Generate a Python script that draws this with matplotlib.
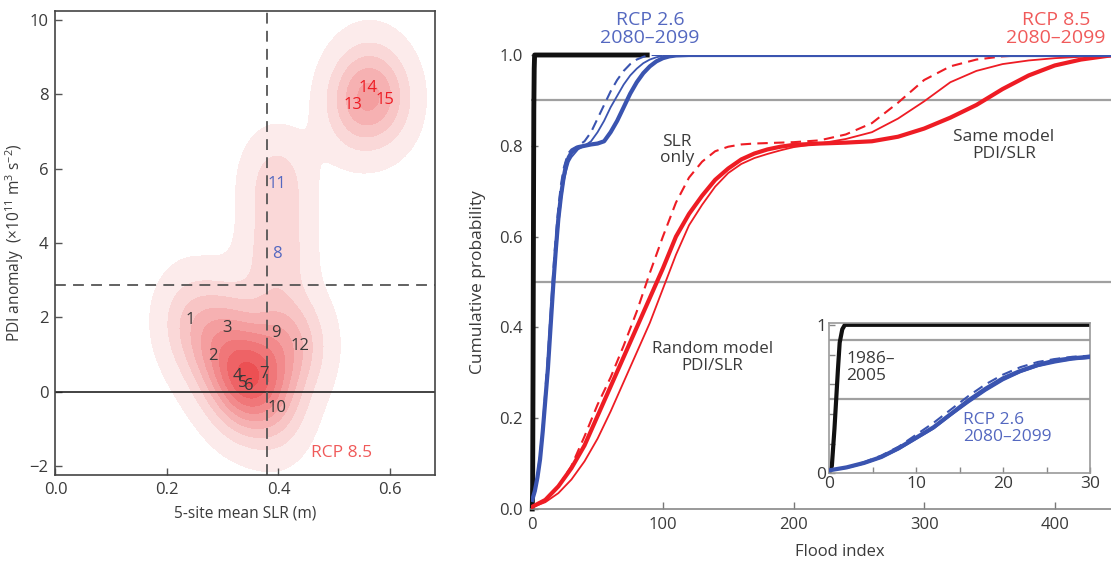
import numpy as np
import matplotlib
matplotlib.use("Agg")
import matplotlib.pyplot as plt
from matplotlib.colors import LinearSegmentedColormap

plt.rcParams["font.family"] = ["Open Sans", "DejaVu Sans"]
plt.rcParams["mathtext.fontset"] = "custom"
plt.rcParams["mathtext.rm"] = "Open Sans"
plt.rcParams["mathtext.it"] = "Open Sans:italic"

TXT = "#3a3a3a"
BLUE = "#3a54b0"
BLUE_TXT = "#5468c0"
RED = "#ee1c24"
RED_TXT = "#f05a5a"
GREY = "#a0a0a0"

# ── left panel data: model SLR vs PDI anomaly (RCP 8.5) ──────────────────────
model_id = ["1", "2", "3", "4", "5", "6", "7", "8", "9", "10", "11", "12", "13", "14", "15"]
slr = [0.241, 0.282, 0.308, 0.326, 0.336, 0.347, 0.374, 0.397, 0.396, 0.397,
       0.397, 0.438, 0.533, 0.560, 0.591]
pdi = [1.94, 0.97, 1.72, 0.43, 0.24, 0.16, 0.48, 3.71, 1.59, -0.43,
       5.60, 1.24, 7.70, 8.18, 7.86]
id_color = ["k"] * 7 + ["b", "k", "k", "b", "k", "r", "r", "r"]
slr_thresh = 0.38
pdi_thresh = 2.86

# ── right panel data: cumulative probability of flood index ──────────────────
hist_x = [0, 0.3, 0.6, 0.8, 1.0, 1.2, 1.5, 1.8, 88]
hist_p = [0, 0.05, 0.30, 0.50, 0.70, 0.88, 0.97, 1.0, 1.0]

rcp26_x = [0, 2, 4, 6, 8, 10, 12, 14, 16, 18, 20, 22, 24, 26, 28, 30, 35, 40,
           45, 50, 55, 60, 65, 70, 75, 80, 85, 90, 95, 100, 105, 110, 120, 450]
rcp26_same = [0.02, 0.04, 0.07, 0.11, 0.17, 0.24, 0.31, 0.40, 0.49, 0.57, 0.64,
              0.69, 0.73, 0.76, 0.775, 0.785, 0.797, 0.80, 0.803, 0.805, 0.81,
              0.83, 0.855, 0.885, 0.915, 0.94, 0.96, 0.975, 0.986, 0.993, 0.997,
              0.999, 1.0, 1.0]
rcp26_rand = [0.02, 0.035, 0.065, 0.105, 0.16, 0.23, 0.30, 0.39, 0.475, 0.555,
              0.625, 0.68, 0.72, 0.745, 0.765, 0.775, 0.792, 0.80, 0.81, 0.83,
              0.855, 0.885, 0.91, 0.935, 0.955, 0.97, 0.982, 0.99, 0.995, 0.998,
              0.999, 1.0, 1.0, 1.0]
rcp26_slr = [0.02, 0.04, 0.075, 0.12, 0.18, 0.26, 0.34, 0.43, 0.52, 0.60, 0.665,
             0.715, 0.75, 0.77, 0.785, 0.792, 0.80, 0.81, 0.83, 0.86, 0.89, 0.92,
             0.945, 0.965, 0.98, 0.99, 0.996, 1.0, 1.0, 1.0, 1.0, 1.0, 1.0, 1.0]

rcp85_x = [0, 10, 20, 30, 40, 50, 60, 70, 80, 90, 100, 110, 120, 130, 140, 150,
           160, 170, 180, 190, 200, 220, 240, 260, 280, 300, 320, 340, 360, 380,
           400, 420, 440, 450]
rcp85_same = [0.005, 0.02, 0.05, 0.09, 0.14, 0.205, 0.27, 0.335, 0.40, 0.465,
              0.53, 0.60, 0.65, 0.69, 0.725, 0.75, 0.77, 0.783, 0.792, 0.798,
              0.802, 0.805, 0.807, 0.81, 0.82, 0.838, 0.862, 0.89, 0.925, 0.955,
              0.977, 0.99, 0.998, 1.0]
rcp85_rand = [0.004, 0.015, 0.035, 0.065, 0.105, 0.155, 0.215, 0.28, 0.345, 0.41,
              0.485, 0.56, 0.625, 0.67, 0.71, 0.74, 0.76, 0.773, 0.782, 0.79,
              0.797, 0.805, 0.815, 0.83, 0.86, 0.898, 0.94, 0.965, 0.98, 0.988,
              0.993, 0.996, 0.999, 1.0]
rcp85_slr = [0.005, 0.02, 0.05, 0.095, 0.16, 0.23, 0.29, 0.36, 0.435, 0.52, 0.60,
             0.675, 0.73, 0.765, 0.788, 0.798, 0.803, 0.805, 0.806, 0.807, 0.808,
             0.812, 0.825, 0.85, 0.895, 0.945, 0.975, 0.99, 0.997, 1.0, 1.0, 1.0,
             1.0, 1.0]

ref_levels = [0.5, 0.9]

fig = plt.figure(figsize=(11.11, 5.63), dpi=100)

# ── left panel ────────────────────────────────────────────────────────────────
ax1 = fig.add_axes([0.04995, 0.1558, 0.3412, 0.8252])
gx = np.linspace(0, 0.68, 400)
gy = np.linspace(-2.25, 10.25, 400)
GX, GY = np.meshgrid(gx, gy)
dens = np.zeros_like(GX)
sx, sy = 0.04, 0.9
for xi, yi in zip(slr, pdi):
    dens += np.exp(-0.5 * ((GX - xi) / sx) ** 2 - 0.5 * ((GY - yi) / sy) ** 2)
# contour spacing tied to the height of the upper (13-15) peak
p_top = dens[GY > 6].max()
nlev = 10
levels = list(p_top * (0.085 + 0.21 * np.arange(nlev))) + [dens.max() + 1]
cmap = LinearSegmentedColormap.from_list("pk", ["#fcebeb", "#ea3d40"])
cols = [cmap(i / (nlev - 1)) for i in range(nlev)]
ax1.contourf(GX, GY, dens, levels=levels, colors=cols, zorder=0)

ax1.axhline(0, color="#222222", lw=1.2, zorder=2)
ax1.axhline(pdi_thresh, color="#555555", lw=1.3, ls=(0, (6, 4)), zorder=2)
ax1.axvline(slr_thresh, color="#555555", lw=1.3, ls=(0, (6, 4)), zorder=2)

cmap_id = {"k": TXT, "b": BLUE_TXT, "r": RED}
for lab, xi, yi, c in zip(model_id, slr, pdi, id_color):
    ax1.text(xi, yi, lab, color=cmap_id[c], fontsize=12, ha="center",
             va="center", zorder=3)
ax1.text(0.514, -1.64, "RCP 8.5", color=RED_TXT, fontsize=12.5, ha="center",
         va="center")

ax1.set_xlim(0, 0.68)
ax1.set_ylim(-2.25, 10.25)
ax1.set_xticks([0.0, 0.2, 0.4, 0.6])
ax1.set_xticklabels(["0.0", "0.2", "0.4", "0.6"])
ax1.set_yticks([-2, 0, 2, 4, 6, 8, 10])
ax1.set_yticklabels(["\u22122", "0", "2", "4", "6", "8", "10"])
ax1.tick_params(direction="in", length=5, width=1, colors="#555555",
                labelcolor=TXT, labelsize=12, pad=5)
for s in ax1.spines.values():
    s.set_color("#444444")
    s.set_linewidth(1.2)
ax1.set_xlabel("5-site mean SLR (m)", fontsize=11.2, color=TXT)
ax1.xaxis.set_label_coords(0.5, -0.064)
ax1.set_ylabel("PDI anomaly  (\u00d710$^{11}$ m$^3$ s$^{-2}$)", fontsize=11.2,
               color=TXT)
ax1.yaxis.set_label_coords(-0.078, 0.5)

# ── right panel ───────────────────────────────────────────────────────────────
ax2 = fig.add_axes([0.4779, 0.0959, 0.5221, 0.8064])
for lv in ref_levels:
    ax2.axhline(lv, color=GREY, lw=1.6, zorder=1)
ax2.plot(hist_x, hist_p, color="#111111", lw=3.5, zorder=2, clip_on=False)
ax2.plot(rcp85_x, rcp85_slr, color=RED, lw=1.5, ls=(0, (5, 3)), zorder=3)
ax2.plot(rcp85_x, rcp85_rand, color=RED, lw=1.3, zorder=3)
ax2.plot(rcp85_x, rcp85_same, color=RED, lw=3, zorder=3)
ax2.plot(rcp26_x, rcp26_slr, color=BLUE, lw=1.5, ls=(0, (5, 3)), zorder=4)
ax2.plot(rcp26_x, rcp26_rand, color=BLUE, lw=1.3, zorder=4)
ax2.plot(rcp26_x, rcp26_same, color=BLUE, lw=3, zorder=4)

ax2.set_xlim(-1, 443)
ax2.set_ylim(0, 1.0)
ax2.set_xticks([0, 100, 200, 300, 400])
ax2.set_yticks([0.0, 0.2, 0.4, 0.6, 0.8, 1.0])
ax2.set_yticklabels(["0.0", "0.2", "0.4", "0.6", "0.8", "1.0"])
ax2.tick_params(direction="in", length=5, width=1, colors="#777777",
                labelcolor=TXT, labelsize=12, pad=6)
for side in ["top", "right", "left"]:
    ax2.spines[side].set_visible(False)
ax2.spines["bottom"].set_color("#888888")
ax2.spines["bottom"].set_linewidth(1.2)
ax2.set_xlabel("Flood index", fontsize=12, color=TXT)
ax2.xaxis.set_label_coords(0.533, -0.077)
ax2.set_ylabel("Cumulative probability", fontsize=12.5, color=TXT)
ax2.yaxis.set_label_coords(-0.078, 0.5)

ax2.text(90, 1.057, "RCP 2.6\n2080\u20132099", color=BLUE_TXT, fontsize=14,
         ha="center", va="center", linespacing=1.05, clip_on=False)
ax2.text(401, 1.057, "RCP 8.5\n2080\u20132099", color=RED_TXT, fontsize=14,
         ha="center", va="center", linespacing=1.05, clip_on=False)
ax2.text(110.6, 0.791, "SLR\nonly", color=TXT, fontsize=12.5, ha="center",
         va="center", linespacing=1.0)
ax2.text(361, 0.80, "Same model\nPDI/SLR", color=TXT, fontsize=12.5,
         ha="center", va="center", linespacing=1.1)
ax2.text(138, 0.333, "Random model\nPDI/SLR", color=TXT, fontsize=12.2,
         ha="center", va="center", linespacing=1.1)

# ── inset: zoom on low flood index ───────────────────────────────────────────
ax3 = fig.add_axes([0.7464, 0.1593, 0.2347, 0.2664])
for lv in ref_levels:
    ax3.axhline(lv, color=GREY, lw=1.6, zorder=1)
ax3.plot(hist_x, hist_p, color="#111111", lw=3, zorder=2)
ax3.plot(rcp26_x, rcp26_slr, color=BLUE, lw=1.5, ls=(0, (5, 3)), zorder=4)
ax3.plot(rcp26_x, rcp26_rand, color=BLUE, lw=1.2, zorder=4)
ax3.plot(rcp26_x, rcp26_same, color=BLUE, lw=3, zorder=4)
ax3.set_xlim(0, 30)
ax3.set_ylim(0, 1.01)
ax3.set_xticks([0, 5, 10, 15, 20, 25, 30])
ax3.set_xticklabels(["0", "", "10", "", "20", "", "30"])
ax3.set_yticks([0, 0.2, 0.4, 0.6, 0.8, 1.0])
ax3.set_yticklabels(["0", "", "", "", "", "1"])
ax3.tick_params(direction="in", length=4, width=1, colors="#888888",
                labelcolor=TXT, labelsize=12.5, pad=2)
for s in ax3.spines.values():
    s.set_color("#999999")
    s.set_linewidth(1.2)
ax3.text(1.92, 0.715, "1986\u2013\n2005", color=TXT, fontsize=12.5, ha="left",
         va="center", linespacing=1.1)
ax3.text(15.4, 0.302, "RCP 2.6\n2080\u20132099", color=BLUE_TXT, fontsize=12.5,
         ha="left", va="center", linespacing=1.1)

fig.savefig("out.png", dpi=100)
